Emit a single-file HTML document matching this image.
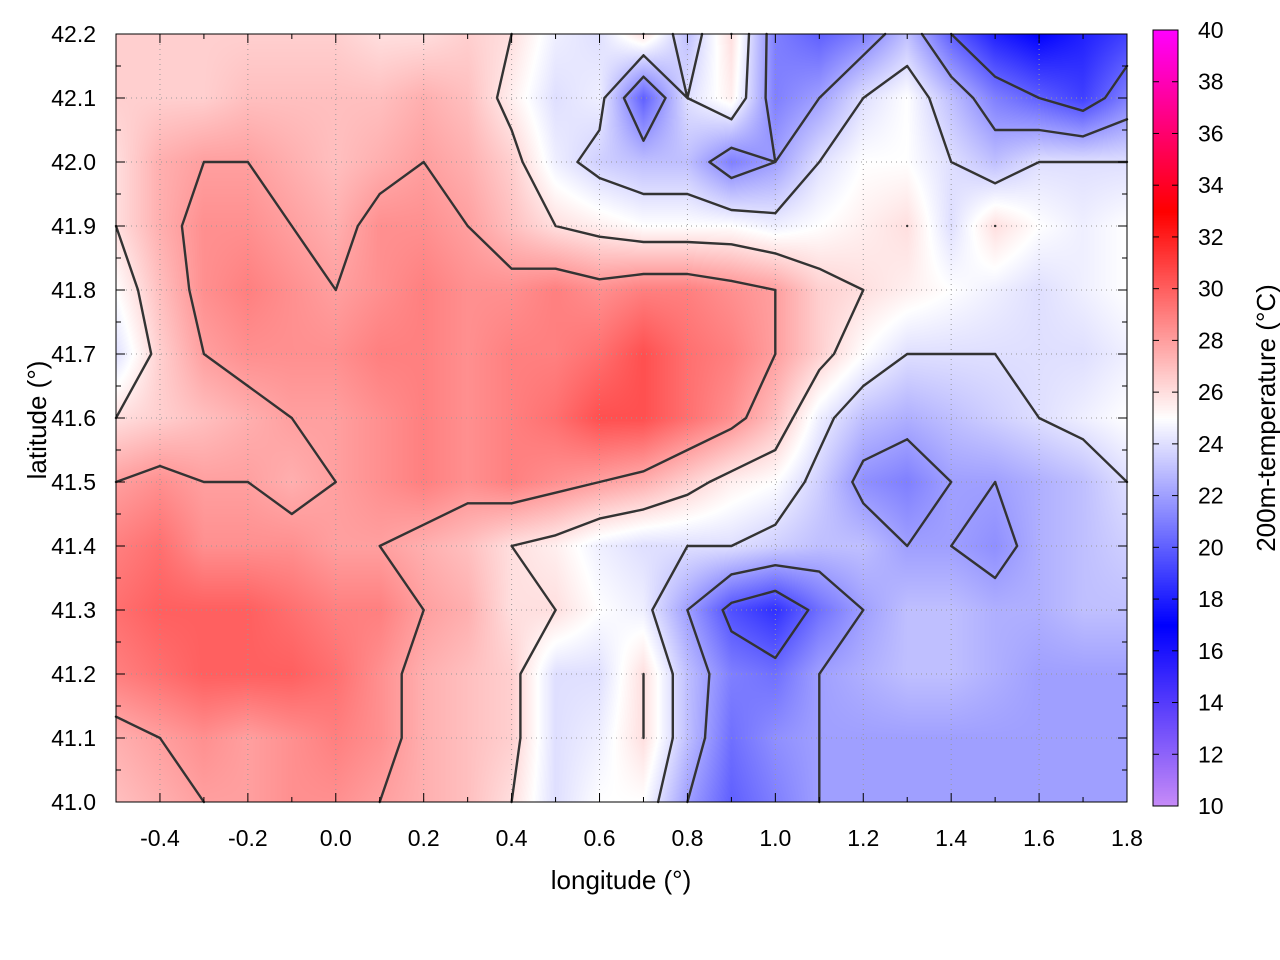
<!DOCTYPE html>
<html><head><meta charset="utf-8">
<style>
body{margin:0;background:#fff;width:1280px;height:960px;overflow:hidden;font-family:"Liberation Sans",sans-serif}
#wrap{position:relative;width:1280px;height:960px}
canvas{position:absolute;left:116px;top:34px}
svg{position:absolute;left:0;top:0}
text{font-family:"Liberation Sans",sans-serif;font-size:23px;fill:#000}
text.title{font-size:26px}
</style></head><body>
<div id="wrap">
<canvas id="heat" width="1011" height="768"></canvas>
<canvas id="cbar" width="25" height="776" style="left:1153px;top:30px"></canvas>
<svg id="ov" width="1280" height="960"></svg>
</div>
<script>
const lons=[-0.5,-0.4,-0.3,-0.2,-0.1,0,0.1,0.2,0.3,0.4,0.5,0.6,0.7,0.8,0.9,1.0,1.1,1.2,1.3,1.4,1.5,1.6,1.7,1.8];
const lats=[42.2,42.1,42.0,41.9,41.8,41.7,41.6,41.5,41.4,41.3,41.2,41.1,41.0];
const temps=[
[26.5,26.5,26.5,26.5,26.5,26.5,26,26,26.5,26,24.5,24,26,23,26,21,20,21,23,20,18,17,18,19],
[26.5,26.5,26.5,27,27,27,27,27.5,27,25.5,24,24.5,20,24,25.5,21,22,24,25,23,21,20,19,21],
[26,27.5,28,28,27.5,27,27.5,28,27.5,26.5,24.5,23.5,23,23,21,22,24,25,25,24,23,24,24,24],
[26,27.5,28.5,28.5,28,27.5,28.5,28.5,28,27,26,25.5,25,25,25,24.5,25,25.5,26,24,26,25,24.5,25],
[25,27,28.5,29,28.5,28,28.5,29,28.5,28.5,29,28.5,29,29,28.5,28,26.5,26,25.5,25,24.5,24,24.5,25],
[24,26.5,28,28.5,28.5,28.5,29,29,28.5,29,29,29.5,30.5,29.5,29,28,26.5,25,24,24,24,24,24,24.5],
[26,26.5,27,27.5,28,28,28.5,29,28.5,29,29.5,30.5,30.5,29.5,28.5,27,24.5,23,22.5,23,23.5,24,24.5,25],
[28,28.5,28,28,27.5,28,28.5,29,28.5,29,28.5,28,27.5,26.5,25.5,25,23.5,21.5,21,22,22,22.5,23,24],
[29,29.5,28.5,28.5,28.5,28,28,27.5,27,26,25.5,24.5,24,24,24,23.5,23,23,22,22,21.5,22.5,23,23.5],
[29.5,30,30,30,29.5,29,29,28,27.5,26,26,25,24.5,22,19.5,18.5,20.5,22,23,23,22.5,22.5,23,23],
[29,29.5,30,30,30,29.5,28.5,27.5,27,26.5,24,24,26,23,21,20.5,22,22.5,23,23,22.5,22,22,22],
[27.5,28,28.5,28,28.5,29,28.5,27.5,27,26.5,24,24.5,26,23,20.5,21.5,22,22,22,22,22,22,22,22],
[27,27.5,28,28,28.5,28.5,28,27.5,27,26,24,25,25,22,20,21,22,22,22,22,22,22,22,22]];
const levels=[20,22,24,26,28];
const xTicks=[-0.4,-0.2,0.0,0.2,0.4,0.6,0.8,1.0,1.2,1.4,1.6,1.8];
const yTicks=[41.0,41.1,41.2,41.3,41.4,41.5,41.6,41.7,41.8,41.9,42.0,42.1,42.2];
const cTicks=[10,12,14,16,18,20,22,24,26,28,30,32,34,36,38,40];

const X0=116,X1=1127,Y0=34,Y1=802;
const xs=v=>X0+(v+0.5)/2.3*(X1-X0);
const ys=v=>Y1-(v-41)/1.2*(Y1-Y0);
const stops=[[10,200,140,248],[17,0,0,255],[25,255,255,255],[33,255,0,0],[40,255,0,255]];
function cmap(t){
  if(t<=stops[0][0])return stops[0].slice(1);
  for(let i=1;i<stops.length;i++){if(t<=stops[i][0]){const a=stops[i-1],b=stops[i],f=(t-a[0])/(b[0]-a[0]);return [a[1]+(b[1]-a[1])*f,a[2]+(b[2]-a[2])*f,a[3]+(b[3]-a[3])*f];}}
  return stops[stops.length-1].slice(1);
}
const nr=lats.length,nc=lons.length;
function val(lon,lat){
  let c=(lon-lons[0])/(lons[1]-lons[0]), r=(lats[0]-lat)/(lats[0]-lats[1]);
  c=Math.max(0,Math.min(nc-1.0001,c)); r=Math.max(0,Math.min(nr-1.0001,r));
  const i=Math.floor(r),j=Math.floor(c),fr=r-i,fc=c-j;
  return temps[i][j]*(1-fr)*(1-fc)+temps[i][j+1]*(1-fr)*fc+temps[i+1][j]*fr*(1-fc)+temps[i+1][j+1]*fr*fc;
}
const hc=document.getElementById('heat').getContext('2d');
const W=1011,H=768,img=hc.createImageData(W,H);
for(let py=0;py<H;py++){const lat=42.2-(py+0.5)/H*1.2;
 for(let px=0;px<W;px++){const lon=-0.5+(px+0.5)/W*2.3;const c=cmap(val(lon,lat));const k=(py*W+px)*4;
  img.data[k]=c[0];img.data[k+1]=c[1];img.data[k+2]=c[2];img.data[k+3]=255;}}
hc.putImageData(img,0,0);
const cc=document.getElementById('cbar').getContext('2d');
for(let py=0;py<776;py++){const c=cmap(40-py/776*30);cc.fillStyle=`rgb(${c[0]|0},${c[1]|0},${c[2]|0})`;cc.fillRect(0,py,25,1);}
const NS='http://www.w3.org/2000/svg',ov=document.getElementById('ov');
function el(t,a,txt){const e=document.createElementNS(NS,t);for(const k in a)e.setAttribute(k,a[k]);if(txt!==undefined)e.textContent=txt;ov.appendChild(e);return e;}
for(const t of xTicks){const g=el('line',{x1:xs(t),x2:xs(t),y1:Y0,y2:Y1,stroke:'#999','stroke-dasharray':'1 4','stroke-width':1});
}
for(const t of yTicks){const g=el('line',{x1:X0,x2:X1,y1:ys(t),y2:ys(t),stroke:'#999','stroke-dasharray':'1 4','stroke-width':1});
}
const cg=el('g',{stroke:'#333','stroke-width':2.4,fill:'none','stroke-linecap':'round'});

let d='';
for(const L of levels){
 for(let i=0;i<nr-1;i++)for(let j=0;j<nc-1;j++){
  const p=[[j,i],[j+1,i],[j+1,i+1],[j,i+1]];
  const v=p.map(q=>temps[q[1]][q[0]]);
  const pts=[];
  for(let e=0;e<4;e++){const a=v[e],b=v[(e+1)%4];
   if((a<L)!==(b<L)){const f=(L-a)/(b-a);const q1=p[e],q2=p[(e+1)%4];
    pts.push([q1[0]+(q2[0]-q1[0])*f,q1[1]+(q2[1]-q1[1])*f]);}}
  const tp=q=>[xs(lons[0]+q[0]*0.1),ys(lats[0]-q[1]*0.1)];
  for(let k=0;k+1<pts.length;k+=2){const a=tp(pts[k]),b=tp(pts[k+1]);d+=`M${a[0].toFixed(1)},${a[1].toFixed(1)}L${b[0].toFixed(1)},${b[1].toFixed(1)}`;}
 }}
const cp=el('path',{d:d});cg.appendChild(cp);

const b=el('rect',{x:X0,y:Y0,width:X1-X0,height:Y1-Y0,fill:'none',stroke:'#000','stroke-width':1});

for(let v=-0.5;v<=1.8001;v+=0.1){const x=xs(v);const major=Math.abs(Math.round(v*10)%2)===0&&Math.abs(v+0.5)>1e-6;const len=major?9:5;
 el('line',{x1:x,x2:x,y1:Y1,y2:Y1-len,stroke:'#000'});el('line',{x1:x,x2:x,y1:Y0,y2:Y0+len,stroke:'#000'});}
for(const t of xTicks){const e=el('text',{x:xs(t),y:846,'text-anchor':'middle'},t.toFixed(1));
}
for(let v=41.0;v<=42.2001;v+=0.05){const y=ys(v);const major=Math.abs(Math.round(v*20)%2)===0;const len=major?9:5;
 el('line',{x1:X0,x2:X0+len,y1:y,y2:y,stroke:'#000'});el('line',{x1:X1,x2:X1-len,y1:y,y2:y,stroke:'#000'});}
for(const t of yTicks){const e=el('text',{x:96,y:ys(t)+8,'text-anchor':'end'},t.toFixed(1));
}
const cb=el('rect',{x:1153,y:30,width:25,height:776,fill:'none',stroke:'#000'});

const cy=v=>806-(v-10)/30*776;
for(const t of cTicks){const y=cy(t);el('line',{x1:1153,x2:1159,y1:y,y2:y,stroke:'#000'});el('line',{x1:1172,x2:1178,y1:y,y2:y,stroke:'#000'});
 const e=el('text',{x:1198,y:y+8},String(t));}
const xl=el('text',{x:621,y:889,'text-anchor':'middle','class':'title'},'longitude (°)');

const yl=el('text',{x:0,y:0,'text-anchor':'middle','class':'title',transform:'translate(46,420) rotate(-90)'},'latitude (°)');

const cl=el('text',{x:0,y:0,'text-anchor':'middle','class':'title',transform:'translate(1275,418) rotate(-90)'},'200m-temperature (°C)');

</script>
</body></html>
